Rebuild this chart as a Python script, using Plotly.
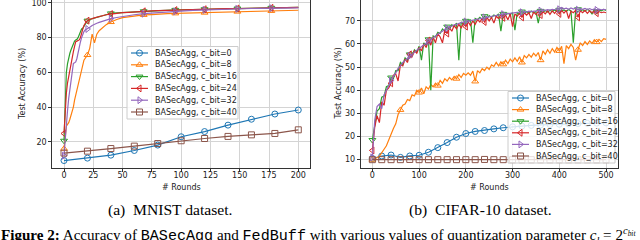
import plotly.graph_objects as go

W, H = 640, 240

bits = [0, 8, 16, 24, 32, 40]
labels = ["BASecAgg, c_bit=%d" % b for b in bits]
colors = ["#1f77b4", "#ff7f0e", "#2ca02c", "#d62728", "#9467bd", "#8c564b"]
symbols = ["circle-open", "triangle-up-open", "triangle-down-open",
           "triangle-left-open", "triangle-right-open", "square-open"]

# ---------------- MNIST ----------------
mn_sparse_rounds = [0, 20, 40, 60, 80, 100, 120, 140, 160, 180, 200]
mn_c0 = [9.2, 10.6, 12.3, 15.0, 18.1, 22.9, 25.9, 29.6, 33.0, 36.0, 38.3]
mn_c40 = [13.5, 14.6, 16.1, 17.5, 19.0, 20.6, 21.9, 23.1, 24.0, 24.8, 26.9]

mn_rounds = [0, 1, 2, 3, 4, 5, 6, 7, 8, 9, 10, 11, 12, 13, 14, 15, 16, 17, 18, 19, 20,
             22, 24, 26, 28, 30,
             33, 36, 40, 45, 50, 55, 60,
             68, 75, 80, 88, 95, 100,
             110, 120, 130, 140, 148,
             160, 170, 177, 185, 190, 200]
mn_c8 = [16, 24, 29, 30, 31, 33, 35, 38, 40, 44, 47, 50, 53, 56, 59, 62, 65, 67, 68, 69, 70,
         74, 82, 77, 82, 84,
         86, 87.5, 89, 90.5, 91.5, 92, 92.6,
         93.1, 93.3, 93.6, 93.8, 94, 94.1,
         94.3, 94.4, 94.6, 94.8, 95,
         95.1, 95.3, 95.4, 95.5, 95.6, 95.8]
mn_c16 = [20.6, 45, 60, 65, 69, 71, 73, 75, 77, 78, 78.7, 79, 80, 82, 84, 85, 85.4, 86.5, 88, 89, 89.8,
          90.5, 91, 91.5, 91.8, 92.1,
          92.6, 93.2, 94, 94.3, 94.5, 94.7, 95,
          95.2, 95.4, 95.6, 95.8, 96, 96,
          96.2, 96.4, 96.5, 96.7, 96.8,
          97, 97.1, 97.2, 97.3, 97.3, 97.4]
mn_c24 = [24.8, 38, 48, 54, 58, 62, 65, 69, 72, 75, 77.7, 78, 78.5, 78.7, 80, 83, 85, 87, 88.5, 89.2, 89.8,
          90.5, 91, 91.4, 91.8, 92.1,
          92.7, 93.2, 93.6, 94.1, 94.4, 94.6, 94.9,
          95.2, 95.4, 95.6, 95.8, 95.9, 96,
          96.2, 96.4, 96.5, 96.7, 96.8,
          97, 97.1, 97.2, 97.3, 97.4, 97.5]
mn_c32 = [12, 22, 30.8, 38, 45, 50, 56, 62, 65.2, 65.5, 66, 68, 72, 75, 77.5, 80, 82, 83.5, 84.4, 84.7, 85,
          86, 87, 87.8, 88.3, 88.8,
          89.5, 90.3, 91, 91.6, 92.2, 92.8, 93.2,
          93.8, 94.2, 94.4, 94.8, 95.1, 95.3,
          95.7, 96, 96.3, 96.5, 96.6,
          96.8, 96.9, 97, 97.1, 97.1, 97.2]
mn_mark_rounds = [0, 20, 40, 68, 95, 120, 148, 177]

# ---------------- CIFAR-10 ----------------
cf_rounds = list(range(0, 501, 5))
cf_c8 = [10, 10.3, 10.8, 11.5, 12.8, 14.5, 16, 19, 21, 23.5,
         25.5, 29.5, 31.5, 33.5, 34, 36, 35.5, 38, 37.5, 40,
         39, 41, 38.5, 41.5, 40.5, 42.5, 41.5, 43, 42, 44.3,
         43, 45, 44, 45.5, 44.5, 46, 45, 46.8, 45.5, 47.3,
         46.5, 47.5, 46.5, 48.3, 43.8, 48.5, 47.5, 49.3, 48.5, 50,
         49, 51, 50.3, 52, 50.5, 52.3, 51.2, 53, 51.5, 53.5,
         52.3, 54, 52.5, 54.5, 52, 55, 54, 55.5, 54.3, 56,
         54.8, 56.3, 53, 57, 55.5, 57.5, 56, 58, 56.5, 58.5,
         57, 59, 51.5, 59.3, 58, 59.8, 58.5, 53, 57.5, 60.5,
         59.3, 61, 59.8, 61.3, 60.2, 61.8, 60.8, 62, 61, 62.3,
         62]
cf_c16 = [18.5, 25, 31, 32, 37, 37.5, 41.5, 42, 45.5, 45,
          48.5, 48.5, 52, 51, 54, 53, 55.5, 55, 57.5, 56.5,
          59, 53, 60.5, 59.5, 62, 40, 63.5, 63, 65, 64.5,
          66.5, 65.5, 67.5, 66.5, 68.3, 67.5, 69, 53, 69.5, 68.5,
          70, 69.5, 70.5, 60.5, 71, 70.5, 71.5, 70.5, 72, 71,
          72.3, 71.5, 72.5, 72, 73, 65.5, 73, 72.5, 73.3, 72.7,
          73.5, 66, 73.5, 73, 74, 73.2, 74, 73.3, 74.2, 73.5,
          74, 69, 74.3, 73.7, 74.5, 73.8, 74.6, 74, 74.7, 74,
          74.8, 74.2, 74.7, 74.1, 74.9, 74.3, 60.5, 74.5, 75, 74.3,
          74.8, 74.2, 75, 74.4, 73, 74.7, 74.2, 74.8, 74.3, 74.9,
          74.5]
cf_c24 = [14, 24, 29, 26, 35, 33.5, 40, 41, 43, 46.5,
          47, 44, 51, 50.5, 53.5, 52, 55.5, 54.5, 57, 56,
          58.5, 57, 60, 58.5, 61.5, 59.5, 63, 60.5, 64.5, 63,
          60.5, 66, 64.5, 67, 65.5, 68, 66.5, 68.5, 67, 69,
          67.5, 69.5, 68, 70, 68.5, 70.5, 69.5, 71, 69.5, 71.5,
          70, 71.5, 69, 72, 71, 72.5, 71.3, 72.5, 70.5, 73,
          67.5, 73, 72, 73.2, 71.5, 73.5, 72.5, 73.5, 71, 73.8,
          72.8, 74, 72.5, 74, 73, 74.3, 72.8, 74.3, 73.2, 74.5,
          73, 74.5, 73.3, 74.5, 71, 74.2, 73.5, 74.5, 71.5, 74.3,
          73.5, 74.5, 73.2, 74.3, 73.5, 74.2, 73.3, 74, 73.5, 73.8,
          73.5]
cf_c32 = [11, 27, 33, 34, 32, 38, 40, 42, 44.3, 46,
          47.5, 49.5, 50.5, 52, 52.8, 54, 54.8, 55.5, 56.5, 57.3,
          58, 58.8, 59.5, 60.5, 61, 62, 62.8, 63.8, 64.3, 65,
          65.5, 66.4, 66.8, 67.5, 67.7, 68.3, 68.5, 69, 69.2, 69.5,
          69.7, 70, 70.3, 70.4, 70.8, 70.8, 71.2, 71.4, 71.5, 71.8,
          71.9, 72.2, 72.2, 72.5, 72.6, 72.8, 72.9, 73.1, 73.1, 73.3,
          73.3, 73.5, 73.6, 73.8, 73.7, 74, 73.9, 74.2, 74, 74.3,
          74.3, 74.5, 74.4, 74.7, 74.5, 74.8, 74.6, 75, 74.8, 75.3,
          75, 75.8, 75.2, 75.5, 75, 75.6, 75.1, 75.5, 74.8, 75.3,
          75, 75.4, 74.9, 75.3, 74.8, 75.2, 74.7, 75.1, 74.8, 75,
          74.8]
cf_sparse_rounds = list(range(0, 501, 20))
cf_c0 = [10.5, 11.6, 12.0, 11.0, 11.6, 11.9, 13.2, 15.2, 17.4, 19.7, 21.3, 22.2, 22.6,
         23.3, 23.8, 24.2, 24.5, 24.8, 25.0, 25.2, 25.3, 25.5, 25.6, 25.7, 25.8, 25.9]
cf_c40 = [10.0, 10.0, 10.0, 10.0, 10.1, 10.0, 10.0, 10.0, 10.0, 10.0, 10.0, 10.0, 10.1,
          10.0, 10.0, 10.0, 10.0, 10.0, 10.0, 10.0, 10.0, 10.0, 10.0, 10.0, 10.0, 10.0]
cf_mark_rounds = [0, 40, 80, 120, 160, 200, 240, 280, 320, 360, 400, 440, 480]
cf_c8_mark_rounds = [0, 60, 100, 140, 180, 220, 280, 320, 360, 400, 440, 480]

fig = go.Figure()


def add_series(xs, ys, marks, i, xa, ya):
    fig.add_trace(go.Scatter(x=xs, y=ys, mode="lines",
                             line=dict(color=colors[i], width=1.2),
                             xaxis=xa, yaxis=ya, showlegend=False, hoverinfo="skip"))
    mx = [x for x in xs if x in marks]
    my = [y for x, y in zip(xs, ys) if x in marks]
    fig.add_trace(go.Scatter(x=mx, y=my, mode="markers",
                             marker=dict(symbol=symbols[i], size=6, color=colors[i],
                                         line=dict(width=1, color=colors[i])),
                             xaxis=xa, yaxis=ya, showlegend=False, hoverinfo="skip"))


# MNIST panel
add_series(mn_sparse_rounds, mn_c0, mn_sparse_rounds, 0, "x", "y")
add_series(mn_rounds, mn_c8, mn_mark_rounds, 1, "x", "y")
add_series(mn_rounds, mn_c16, mn_mark_rounds, 2, "x", "y")
add_series(mn_rounds, mn_c24, mn_mark_rounds, 3, "x", "y")
add_series(mn_rounds, mn_c32, mn_mark_rounds, 4, "x", "y")
add_series(mn_sparse_rounds, mn_c40, mn_sparse_rounds, 5, "x", "y")

# CIFAR panel
add_series(cf_sparse_rounds, cf_c0, cf_sparse_rounds, 0, "x2", "y2")
add_series(cf_rounds, cf_c8, cf_c8_mark_rounds, 1, "x2", "y2")
add_series(cf_rounds, cf_c16, cf_mark_rounds, 2, "x2", "y2")
add_series(cf_rounds, cf_c24, cf_mark_rounds, 3, "x2", "y2")
add_series(cf_rounds, cf_c32, cf_mark_rounds, 4, "x2", "y2")
add_series(cf_sparse_rounds, cf_c40, cf_sparse_rounds, 5, "x2", "y2")

annotations = []
TXT = "#222222"
SANS = "DejaVu Sans"


def legend_box(left, top, right, bottom, first_row, gap):
    # box drawn on a pixel-space overlay axis
    fig.add_trace(go.Scatter(x=[left, right, right, left, left],
                             y=[top, top, bottom, bottom, top],
                             mode="lines", fill="toself",
                             fillcolor="rgba(255,255,255,0.8)",
                             line=dict(color="#cccccc", width=1),
                             xaxis="x3", yaxis="y3", showlegend=False, hoverinfo="skip"))
    for i, lab in enumerate(labels):
        ry = first_row + i * gap
        x0 = left + 4
        fig.add_trace(go.Scatter(x=[x0, x0 + 17], y=[ry, ry], mode="lines",
                                 line=dict(color=colors[i], width=1.2),
                                 xaxis="x3", yaxis="y3", showlegend=False, hoverinfo="skip"))
        fig.add_trace(go.Scatter(x=[x0 + 8.5], y=[ry], mode="markers",
                                 marker=dict(symbol=symbols[i], size=6, color=colors[i],
                                             line=dict(width=1, color=colors[i])),
                                 xaxis="x3", yaxis="y3", showlegend=False, hoverinfo="skip"))
        annotations.append(dict(x=(x0 + 21.5) / W, y=1 - ry / H, xref="paper", yref="paper",
                                text=lab, showarrow=False, xanchor="left", yanchor="middle",
                                font=dict(family=SANS, size=8, color=TXT)))


legend_box(127, 46.5, 238, 119, 53, 11.8)
legend_box(508, 91.5, 615, 163, 98, 11.6)

# axis titles
for x in (22, 337.5):
    annotations.append(dict(x=x / W, y=1 - 84 / H, xref="paper", yref="paper",
                            text="Test Accuracy (%)", textangle=-90, showarrow=False,
                            xanchor="center", yanchor="middle",
                            font=dict(family=SANS, size=8, color=TXT)))
for x in (181, 489):
    annotations.append(dict(x=x / W, y=1 - 187 / H, xref="paper", yref="paper",
                            text="# Rounds", showarrow=False, xanchor="center", yanchor="middle",
                            font=dict(family=SANS, size=8, color=TXT)))

SERIF = "Liberation Serif"
annotations.append(dict(x=170 / W, y=1 - 210 / H, xref="paper", yref="paper",
                        text="(a)  MNIST dataset.", showarrow=False,
                        xanchor="center", yanchor="middle",
                        font=dict(family=SERIF, size=15.6, color="black")))
annotations.append(dict(x=480 / W, y=1 - 210 / H, xref="paper", yref="paper",
                        text="(b)  CIFAR-10 dataset.", showarrow=False,
                        xanchor="center", yanchor="middle",
                        font=dict(family=SERIF, size=15.6, color="black")))
MONO = "font-family:Liberation Mono"
caption = ("<b>Figure 2:</b> Accuracy of <span style='%s'>BASecAgg</span> and "
           "<span style='%s'>FedBuff</span> with various values of quantization parameter "
           "<i>c</i><sub><i>l</i></sub> = 2<sup><i>c</i><sub><i>bit</i></sub></sup>") % (MONO, MONO)
annotations.append(dict(x=-1 / W, y=1 - 235.5 / H, xref="paper", yref="paper",
                        text=caption, showarrow=False, xanchor="left", yanchor="middle",
                        font=dict(family=SERIF, size=15.1, color="black")))

GRID = "#d4d4d4"
LINE = "#333333"
axis_common = dict(showgrid=True, gridcolor=GRID, gridwidth=1, zeroline=False,
                   showline=True, mirror=True, linecolor=LINE, linewidth=1,
                   ticks="outside", ticklen=3, tickwidth=1, tickcolor=LINE,
                   ticklabeloverflow="allow",
                   tickfont=dict(family=SANS, size=8, color=TXT))

fig.update_layout(
    width=W, height=H,
    margin=dict(l=0, r=0, t=0, b=0),
    paper_bgcolor="white", plot_bgcolor="rgba(0,0,0,0)",
    showlegend=False,
    xaxis=dict(domain=[52.3 / W, 310 / W], range=[-10, 210], ticklabelstandoff=-4,
               tickvals=[0, 25, 50, 75, 100, 125, 150, 175, 200], anchor="y", **axis_common),
    yaxis=dict(domain=[1 - 168 / H, 1], range=[4.9, 101.7],
               tickvals=[20, 40, 60, 80, 100], anchor="x", **axis_common),
    xaxis2=dict(domain=[360.7 / W, 617.7 / W], range=[-25, 525], ticklabelstandoff=-4,
                tickvals=[0, 100, 200, 300, 400, 500], anchor="y2", **axis_common),
    yaxis2=dict(domain=[1 - 168 / H, 1], range=[6.4, 79],
                tickvals=[10, 20, 30, 40, 50, 60, 70], anchor="x2", **axis_common),
    xaxis3=dict(domain=[0, 1], range=[0, W], visible=False, anchor="y3", fixedrange=True),
    yaxis3=dict(domain=[0, 1], range=[H, 0], visible=False, anchor="x3", fixedrange=True),
    annotations=annotations,
)

fig.write_html("out.html", config={"displayModeBar": False},
               post_script="document.body.style.margin='0';document.body.style.overflow='hidden';")
